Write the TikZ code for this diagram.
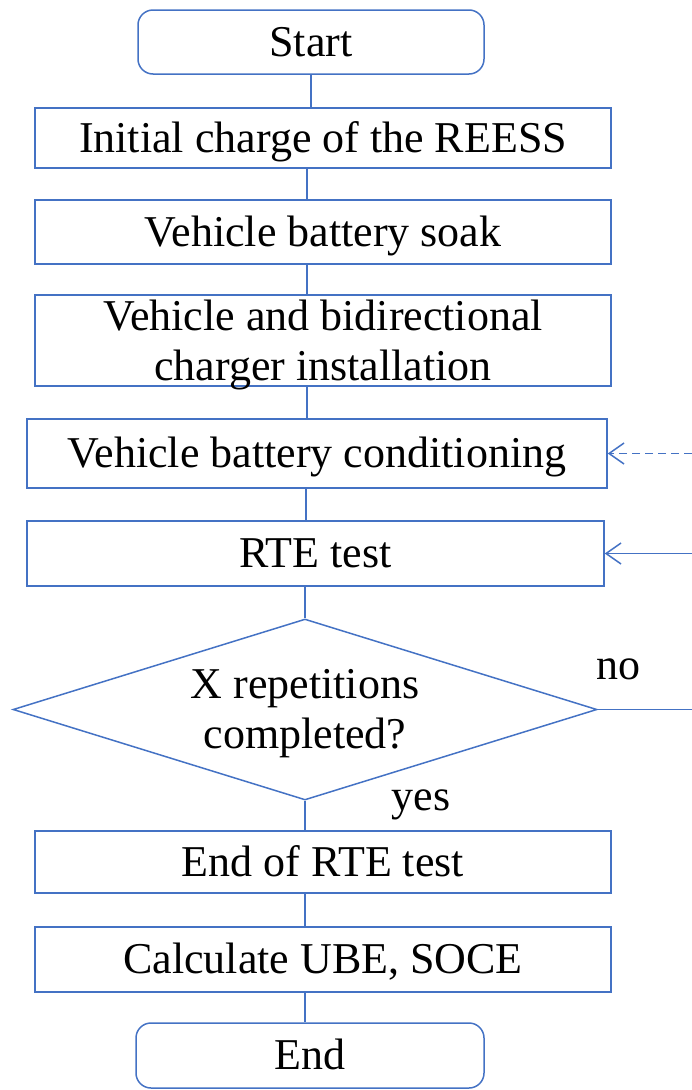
\documentclass[tikz,border=0pt]{standalone}
\usepackage{fontspec}
\setmainfont{Liberation Serif}
\newfontfamily\diagfont{Liberation Serif}
\usetikzlibrary{shapes.geometric,arrows.meta}
\definecolor{lineblue}{RGB}{68,114,196}
\begin{document}
\begin{tikzpicture}[x=1pt,y=1pt,
  font=\diagfont\fontsize{44}{50}\selectfont,
  every node/.style={text=black},
  oneline/.style={text height=33pt,text depth=5pt},
  procbox/.style={draw=lineblue,line width=1.5pt,rectangle,inner sep=0pt,align=center},
  termbox/.style={draw=lineblue,line width=1.5pt,rectangle,rounded corners=15pt,inner sep=0pt,align=center},
  decbox/.style={draw=lineblue,line width=1.5pt,diamond,aspect=3.2,inner sep=0pt,minimum width=584pt,minimum height=181pt},
  twotext/.style={align=center,inner sep=0pt,yshift=-4pt},
  conn/.style={draw=lineblue,line width=1.5pt},
  arr/.style={conn,-{Straight Barb[length=15pt,width=21pt,line width=1.5pt]}},
  lbl/.style={inner sep=0pt,anchor=base}
]
\useasboundingbox (0,0) rectangle (692,-1090);

\node[termbox,oneline,minimum width=346pt,minimum height=64pt] (start) at (311,-42) {Start};
\node[procbox,oneline,minimum width=576pt,minimum height=60pt] (init) at (323,-138) {Initial charge of the REESS};
\node[procbox,oneline,minimum width=576pt,minimum height=64pt] (soak) at (323,-232) {Vehicle battery soak};
\node[procbox,minimum width=576pt,minimum height=91pt,
      label={[twotext,name=insttext]center:Vehicle and bidirectional\\charger installation}] (inst) at (323,-340.5) {};
\node[procbox,oneline,minimum width=580pt,minimum height=69pt] (cond) at (317,-453.5) {Vehicle battery conditioning};
\node[procbox,oneline,minimum width=577pt,minimum height=65pt] (rte) at (315.5,-553.5) {RTE test};
\node[decbox,label={[twotext,name=dectext]center:X repetitions\\completed?}] (dec) at (305,-709.5) {};
\node[procbox,oneline,minimum width=576pt,minimum height=62pt] (endrte) at (323,-862) {End of RTE test};
\node[procbox,oneline,minimum width=576pt,minimum height=65pt] (calc) at (323,-959.5) {Calculate UBE, SOCE};
\node[termbox,oneline,minimum width=348pt,minimum height=65pt] (fin) at (310,-1055.5) {End};

\node[lbl] (yes) at (421,-810) {yes};
\node[lbl] (no) at (618,-679) {no};

\coordinate (rdash) at (692,-453.5);
\coordinate (rsolid) at (692,-553.5);
\coordinate (rno) at (692,-709.5);

\draw[conn] (start.south -| 311,0) -- (init.north -| 311,0);
\draw[conn] (init.south -| 307,0) -- (soak.north -| 307,0);
\draw[conn] (soak.south -| 307,0) -- (inst.north -| 307,0);
\draw[conn] (inst.south -| 307,0) -- (cond.north -| 307,0);
\draw[conn] (cond.south -| 306,0) -- (rte.north -| 306,0);
\draw[conn] (rte.south -| 305,0) -- (dec.north);
\draw[conn] (dec.south) -- (endrte.north -| 305,0);
\draw[conn] (endrte.south -| 305,0) -- (calc.north -| 305,0);
\draw[conn] (calc.south -| 305,0) -- (fin.north -| 305,0);

\draw[conn] (dec.east) -- (rno);
\draw[arr] (rsolid) -- (rte.east);
\draw[arr,dash pattern=on 8pt off 5pt] (rdash) -- (cond.east);
\end{tikzpicture}
\end{document}
